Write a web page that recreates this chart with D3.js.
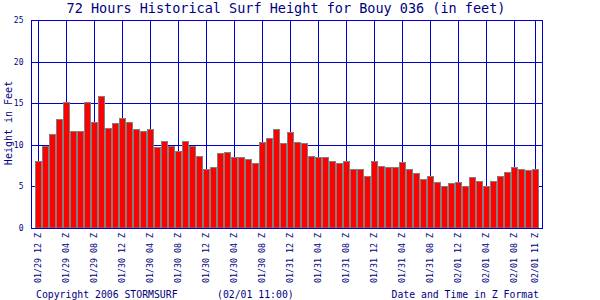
<!DOCTYPE html>
<html>
<head>
<meta charset="utf-8">
<script src="https://cdn.jsdelivr.net/npm/d3@7"></script>
<style>
  body { margin: 0; background: #fff; }
  svg { display: block; font-family: "DejaVu Sans Mono", monospace; }
</style>
</head>
<body>
<div id="chart"></div>
<script>
'use strict';

// surf height per hour, 01/29 12Z .. 02/01 11Z
var heights = [
  8.0, 9.8, 11.3, 13.1, 15.1, 11.7, 11.6, 15.2, 12.8, 15.9, 12.0, 12.6,
  13.2, 12.7, 11.9, 11.6, 11.9, 9.7, 10.5, 9.9, 9.2, 10.4, 9.8, 8.7,
  7.05, 7.3, 9.0, 9.1, 8.5, 8.5, 8.25, 7.8, 10.3, 10.8, 11.9, 10.2,
  11.5, 10.3, 10.2, 8.65, 8.5, 8.5, 8.1, 7.8, 8.0, 7.05, 7.05, 6.3,
  8.1, 7.5, 7.3, 7.3, 7.9, 7.05, 6.6, 5.85, 6.3, 5.5, 5.0, 5.4,
  5.5, 5.1, 6.1, 5.7, 5.1, 5.6, 6.2, 6.7, 7.3, 7.05, 6.95, 7.05
];

var tickHours = [0, 4, 8, 12, 16, 20, 24, 28, 32, 36, 40, 44, 48, 52, 56, 60, 64, 68, 71];
var tickLabels = [
  '01/29 12 Z', '01/29 04 Z', '01/29 08 Z', '01/30 12 Z', '01/30 04 Z', '01/30 08 Z',
  '01/30 12 Z', '01/30 04 Z', '01/30 08 Z', '01/31 12 Z', '01/31 04 Z', '01/31 08 Z',
  '01/31 12 Z', '01/31 04 Z', '01/31 08 Z', '02/01 12 Z', '02/01 04 Z', '02/01 08 Z',
  '02/01 11 Z'
];
var yTicks = [0, 5, 10, 15, 20, 25];

var blue = '#0000cc';
var navy = '#000080';

var svg = d3.select('#chart')
    .append('svg')
    .attr('width', 600)
    .attr('height', 300);

var x = d3.scaleBand()
    .domain(d3.range(heights.length))
    .range([35, 35 + 7 * heights.length]);

var y = d3.scaleLinear()
    .domain([0, 25])
    .range([228, 20]);

var left = 31.5, right = 542.5;

function crisp(v) {
    return Math.round(v) + 0.5;
}

// title
svg.append('text')
    .attr('x', 286)
    .attr('y', 13)
    .attr('text-anchor', 'middle')
    .style('font-size', '13.5px')
    .style('fill', navy)
    .text('72 Hours Historical Surf Height for Bouy 036 (in feet)');

// horizontal grid
svg.selectAll('.hgrid')
    .data(yTicks)
    .enter()
    .append('line')
    .attr('class', 'hgrid')
    .attr('x1', left)
    .attr('x2', right)
    .attr('y1', function (d) { return crisp(y(d)); })
    .attr('y2', function (d) { return crisp(y(d)); })
    .style('stroke', blue);

// vertical grid
svg.selectAll('.vgrid')
    .data(tickHours)
    .enter()
    .append('line')
    .attr('class', 'vgrid')
    .attr('x1', function (d) { return x(d) + 3.5; })
    .attr('x2', function (d) { return x(d) + 3.5; })
    .attr('y1', crisp(y(25)))
    .attr('y2', crisp(y(0)))
    .style('stroke', blue);

// bars
svg.selectAll('.bar')
    .data(heights)
    .enter()
    .append('rect')
    .attr('class', 'bar')
    .attr('x', function (d, i) { return x(i) + 0.5; })
    .attr('width', x.bandwidth() - 1)
    .attr('y', function (d) { return crisp(y(d)); })
    .attr('height', function (d) { return y(0) - crisp(y(d)); })
    .style('fill', '#ff0000')
    .style('stroke', '#808080')
    .style('stroke-width', 1);

// frame
svg.append('rect')
    .attr('x', left)
    .attr('y', crisp(y(25)))
    .attr('width', right - left)
    .attr('height', crisp(y(0)) - crisp(y(25)))
    .style('fill', 'none')
    .style('stroke', blue);

// y axis labels
var yAxis = svg.append('g')
    .attr('transform', 'translate(' + left + ',0)')
    .call(d3.axisLeft(y).tickValues(yTicks).tickSize(0).tickPadding(8));
yAxis.select('.domain').remove();
yAxis.selectAll('text')
    .style('font-size', '8px')
    .style('font-family', '"DejaVu Sans Mono", monospace')
    .style('fill', navy);

// x axis labels
var labelOf = {};
tickHours.forEach(function (h, i) { labelOf[h] = tickLabels[i]; });

var xAxis = svg.append('g')
    .attr('transform', 'translate(0,228)')
    .call(d3.axisBottom(x).tickValues(tickHours).tickSize(0)
        .tickFormat(function (d) { return labelOf[d]; }));
xAxis.select('.domain').remove();
xAxis.selectAll('text')
    .attr('transform', 'rotate(-90)')
    .attr('x', -5)
    .attr('y', 0)
    .attr('dy', '0.35em')
    .attr('text-anchor', 'end')
    .style('font-size', '8.3px')
    .style('font-family', '"DejaVu Sans Mono", monospace')
    .style('fill', navy);

// y axis title
svg.append('text')
    .attr('transform', 'translate(11.5,123) rotate(-90)')
    .attr('text-anchor', 'middle')
    .style('font-size', '10px')
    .style('fill', navy)
    .text('Height in Feet');

// footer
svg.append('text')
    .attr('x', 36)
    .attr('y', 298)
    .style('font-size', '9.8px')
    .style('fill', navy)
    .text('Copyright 2006 STORMSURF');

svg.append('text')
    .attr('x', 217)
    .attr('y', 298)
    .style('font-size', '9.8px')
    .style('fill', navy)
    .text('(02/01 11:00)');

svg.append('text')
    .attr('x', 539)
    .attr('y', 298)
    .attr('text-anchor', 'end')
    .style('font-size', '9.8px')
    .style('fill', navy)
    .text('Date and Time in Z Format');
</script>
</body>
</html>
